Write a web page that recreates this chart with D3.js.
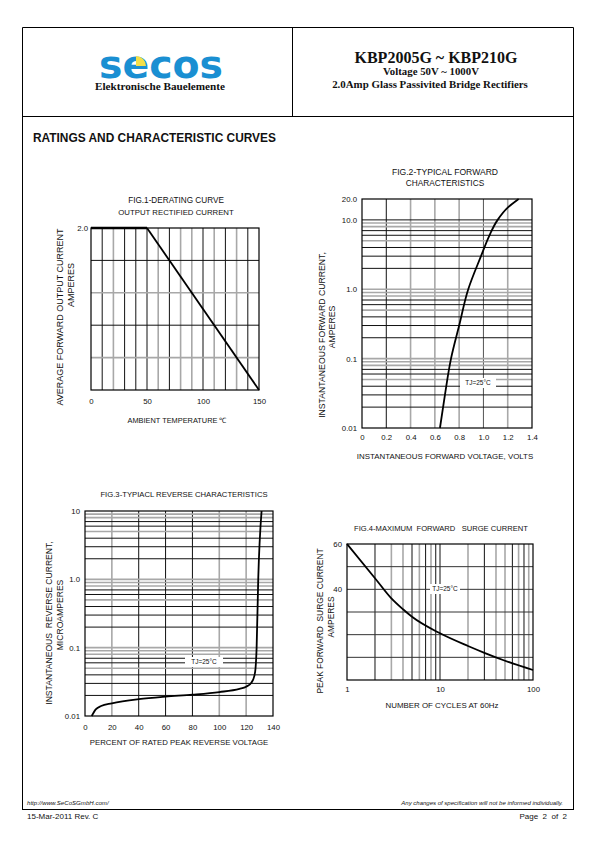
<!DOCTYPE html>
<html><head><meta charset="utf-8">
<script src="https://cdn.jsdelivr.net/npm/d3@7"></script>
<style>
body{margin:0;background:#fff}
svg{display:block}
text{font-family:"Liberation Sans",Arial,sans-serif;fill:#111;white-space:pre}
.serif{font-family:"Liberation Serif","Times New Roman",serif;font-weight:bold}
</style>
</head><body><svg id="c" width="595" height="842"></svg>
<script>
// ---------------- DATA ----------------
// Fig.1 derating curve
const fig1Temp = [0, 50, 150];
const fig1Current = [2.0, 2.0, 0];
const fig1XTicks = [0, 50, 100, 150];
const fig1YTicks = [2.0];
const fig1VGrid = [10,20,30,40,50,60,70,80,90,100,110,120,130,140];
const fig1HGrid = [0.4,0.8,1.2,1.6];

// Fig.2 typical forward characteristics
const fig2Voltage = [0.642, 0.683, 0.733, 0.80, 0.875, 0.98, 1.05, 1.117, 1.2, 1.29];
const fig2Current = [0.01, 0.03, 0.1, 0.3, 1, 3, 6, 10, 15, 20];
const fig2XTicks = [0, 0.2, 0.4, 0.6, 0.8, 1.0, 1.2, 1.4];
const fig2XLabels = ["0","0.2","0.4","0.6","0.8","1.0","1.2","1.4"];
const fig2YTicks = [0.01, 0.1, 1, 10, 20];
const fig2YLabels = ["0.01","0.1","1.0","10.0","20.0"];
const fig2VGrid = [0.2, 0.4, 0.6, 0.8, 1.0, 1.2];

// Fig.3 typical reverse characteristics
const fig3Percent = [5, 8, 12, 20, 40, 60, 80, 100, 115, 120, 124, 126, 127, 127.8, 129, 131.5];
const fig3Current = [0.01, 0.0125, 0.014, 0.0153, 0.0176, 0.0192, 0.0205, 0.0224, 0.025, 0.0268, 0.031, 0.038, 0.05, 0.1, 1, 10];
const fig3XTicks = [0, 20, 40, 60, 80, 100, 120, 140];
const fig3YTicks = [0.01, 0.1, 1, 10];
const fig3YLabels = ["0.01","0.1","1.0","10"];
const fig3VGrid = [20, 40, 60, 80, 100, 120];

// Fig.4 maximum forward surge current
const fig4Cycles = [1, 2, 3, 4, 5, 10, 20, 30, 50, 100];
const fig4Surge = [60, 44.9, 36, 31.2, 27.9, 20.6, 15, 12, 8.5, 4.4];
const fig4XTicks = [1, 10, 100];
const fig4YTicks = [40, 60];
const fig4VGrid = [2,3,4,5,6,7,8,9,10,20,30,40,50,60,70,80,90];
const fig4HGrid = [10,20,30,40,50];

// ---------------- STYLE ----------------
const K = "#111", G = "#a8a8a8";
const fig1VColors = [K,G,K,K,K,G,K,G,G,K,G,K,G,K];
const fig1HColors = [G,K,G,K];
const fig2VColors = [K,G,G,G,"#555",G];
const fig3VColors = [G,K,K,K,G,G];
const fig4VColors = [K,G,G,K,G,K,G,K,K,G,K,G,G,K,G,K,G];
const multColor = {1:G,2:K,3:K,4:K,5:G,6:K,7:K,8:G,9:G};

const svg = d3.select("#c");

// ---------------- PAGE FRAME / HEADER ----------------
const frame = svg.append("g").attr("fill","none").attr("stroke","#000").attr("stroke-width",1);
frame.append("path").attr("d","M22.5,809.5 V27.5 H573.5 V809.5");
frame.append("line").attr("x1",22).attr("x2",574).attr("y1",116.5).attr("y2",116.5);
frame.append("line").attr("x1",292.5).attr("x2",292.5).attr("y1",27).attr("y2",116);
frame.append("line").attr("x1",22).attr("x2",574).attr("y1",809.5).attr("y2",809.5);

// logo
svg.append("text").attr("x",99).attr("y",77.5).attr("textLength",124).attr("lengthAdjust","spacingAndGlyphs")
  .style("font-family","'DejaVu Sans',sans-serif").style("font-weight","bold").style("font-size","39px")
  .style("fill","#1a8fd2").text("secos");
svg.append("path").attr("transform","translate(136,66)")
  .attr("d", d3.arc()({innerRadius:0, outerRadius:10, startAngle:0, endAngle:Math.PI/2}))
  .attr("fill","#f2e04a");
svg.append("text").attr("class","serif").attr("x",160).attr("y",89.5).attr("text-anchor","middle")
  .style("font-size","11.2px").text("Elektronische Bauelemente");

svg.append("text").attr("class","serif").attr("x",436).attr("y",62.5).attr("text-anchor","middle")
  .style("font-size","16px").text("KBP2005G ~ KBP210G");
svg.append("text").attr("class","serif").attr("x",431).attr("y",75).attr("text-anchor","middle")
  .style("font-size","10.8px").text("Voltage 50V ~ 1000V");
svg.append("text").attr("class","serif").attr("x",430).attr("y",87.5).attr("text-anchor","middle")
  .style("font-size","10.9px").text("2.0Amp Glass Passivited Bridge Rectifiers");

svg.append("text").attr("x",33).attr("y",141.5).style("font-size","11.9px").style("font-weight","bold")
  .text("RATINGS AND CHARACTERISTIC CURVES");

// footer
svg.append("text").attr("x",27).attr("y",805).style("font-size","6.1px").style("font-style","italic")
  .text("http://www.SeCoSGmbH.com/");
svg.append("text").attr("x",563).attr("y",805).attr("text-anchor","end").style("font-size","6px").style("font-style","italic")
  .text("Any changes of specification will not be informed individually.");
svg.append("text").attr("x",27).attr("y",819).style("font-size","8px").text("15-Mar-2011 Rev. C");
svg.append("text").attr("x",567).attr("y",819).attr("text-anchor","end").style("font-size","8px").text("Page  2  of  2");

// ---------------- HELPERS ----------------
function vgrid(g, x, y, vals, colors){
  const [y0,y1] = y.range();
  g.append("g").selectAll("line").data(vals).join("line")
    .attr("x1",d=>x(d)).attr("x2",d=>x(d)).attr("y1",y0).attr("y2",y1)
    .attr("stroke",(d,i)=>colors[i]).attr("stroke-width",(d,i)=>colors[i]===G?1.6:1);
}
function hgrid(g, x, y, vals, colors){
  const [x0,x1] = x.range();
  g.append("g").selectAll("line").data(vals).join("line")
    .attr("y1",d=>y(d)).attr("y2",d=>y(d)).attr("x1",x0).attr("x2",x1)
    .attr("stroke",(d,i)=>colors[i]).attr("stroke-width",(d,i)=>colors[i]===G?1.6:1);
}
function logMinor(lo, hi){
  const out=[];
  for(let e=Math.round(Math.log10(lo)); Math.pow(10,e)<hi; e++){
    for(let m=1;m<=9;m++){ const v=m*Math.pow(10,e); if(v>lo*1.0001 && v<hi*0.9999) out.push({v,m}); }
  }
  return out;
}
function border(g,x,y){
  const [x0,x1]=x.range(), [y0,y1]=y.range();
  g.append("rect").attr("x",Math.min(x0,x1)).attr("y",Math.min(y0,y1))
    .attr("width",Math.abs(x1-x0)).attr("height",Math.abs(y1-y0))
    .attr("fill","none").attr("stroke","#000").attr("stroke-width",1.2);
}
function axisText(sel, size){
  sel.select(".domain").remove();
  sel.selectAll("line").remove();
  sel.selectAll("text").style("font-size",size+"px").attr("fill","#111").style("font-family","'Liberation Sans',Arial,sans-serif");
}
function label(x,y,txt,size,anchor,rot){
  const t = svg.append("text").attr("text-anchor",anchor||"middle").style("font-size",size+"px").text(txt);
  if(rot){ t.attr("transform",`translate(${x},${y}) rotate(-90)`).attr("dy","0.35em"); }
  else t.attr("x",x).attr("y",y);
  return t;
}
function tjLabel(cx, cy, w){
  svg.append("rect").attr("x",cx-w/2).attr("y",cy-5).attr("width",w).attr("height",10).attr("fill","#fff");
  label(cx, cy+2.3, "TJ=25°C", 6.5);
}

// ---------------- FIG 1 ----------------
{
  const x = d3.scaleLinear().domain([0,150]).range([91,259]);
  const y = d3.scaleLinear().domain([0,2]).range([390,228]);
  const g = svg.append("g");
  vgrid(g,x,y,fig1VGrid,fig1VColors);
  hgrid(g,x,y,fig1HGrid,fig1HColors);
  border(g,x,y);
  const pts = fig1Temp.map((t,i)=>[t,fig1Current[i]]);
  g.append("path").datum(pts.slice(0,2)).attr("d",d3.line().x(d=>x(d[0])).y(d=>y(d[1])))
    .attr("stroke","#000").attr("stroke-width",2.6).attr("fill","none");
  g.append("path").datum(pts.slice(1)).attr("d",d3.line().x(d=>x(d[0])).y(d=>y(d[1])))
    .attr("stroke","#000").attr("stroke-width",1.8).attr("fill","none");
  svg.append("g").attr("transform","translate(0,390)")
    .call(d3.axisBottom(x).tickValues(fig1XTicks).tickSize(0).tickPadding(8).tickFormat(d3.format("d"))).call(s=>axisText(s,7.8));
  svg.append("g").attr("transform","translate(91,0)")
    .call(d3.axisLeft(y).tickValues(fig1YTicks).tickSize(0).tickPadding(3).tickFormat(d3.format(".1f"))).call(s=>axisText(s,7.8));
  label(176,203,"FIG.1-DERATING CURVE",8.2);
  label(176,215,"OUTPUT RECTIFIED CURRENT",7.8);
  label(177,423,"AMBIENT TEMPERATURE \u2103",7.4);
  label(60,317,"AVERAGE FORWARD OUTPUT CURRENT",9,"middle",true);
  label(71,285,"AMPERES",9,"middle",true);
}

// ---------------- FIG 2 ----------------
{
  const x = d3.scaleLinear().domain([0,1.4]).range([362,532]);
  const y = d3.scaleLog().domain([0.01,20]).range([428,199]);
  const g = svg.append("g");
  vgrid(g,x,y,fig2VGrid,fig2VColors);
  const minors = logMinor(0.01,20);
  hgrid(g,x,y,minors.map(d=>d.v),minors.map(d=>d.v===10?K:multColor[d.m]));
  border(g,x,y);
  const pts = fig2Voltage.map((v,i)=>[v,fig2Current[i]]);
  g.append("path").datum(pts).attr("d",d3.line().curve(d3.curveMonotoneY).x(d=>x(d[0])).y(d=>y(d[1])))
    .attr("stroke","#000").attr("stroke-width",1.8).attr("fill","none");
  tjLabel(478,383,36);
  svg.append("g").attr("transform","translate(0,428)")
    .call(d3.axisBottom(x).tickValues(fig2XTicks).tickSize(0).tickPadding(6).tickFormat((d,i)=>fig2XLabels[i])).call(s=>axisText(s,7.8));
  svg.append("g").attr("transform","translate(362,0)")
    .call(d3.axisLeft(y).tickValues(fig2YTicks).tickSize(0).tickPadding(5).tickFormat((d,i)=>fig2YLabels[i])).call(s=>axisText(s,7.8));
  label(445,174.5,"FIG.2-TYPICAL FORWARD",8.6);
  label(445,185.5,"CHARACTERISTICS",8.3);
  label(445,458.5,"INSTANTANEOUS FORWARD VOLTAGE, VOLTS",7.9);
  label(322,335,"INSTANTANEOUS FORWARD CURRENT,",8.7,"middle",true);
  label(332,327,"AMPERES",8.7,"middle",true);
}

// ---------------- FIG 3 ----------------
{
  const x = d3.scaleLinear().domain([0,140]).range([85,273]);
  const y = d3.scaleLog().domain([0.01,10]).range([716,511]);
  const g = svg.append("g");
  vgrid(g,x,y,fig3VGrid,fig3VColors);
  const minors = logMinor(0.01,10);
  hgrid(g,x,y,minors.map(d=>d.v),minors.map(d=>d.m===1?G:multColor[d.m]));
  border(g,x,y);
  const pts = fig3Percent.map((v,i)=>[v,fig3Current[i]]);
  g.append("path").datum(pts).attr("d",d3.line().curve(d3.curveMonotoneX).x(d=>x(d[0])).y(d=>y(d[1])))
    .attr("stroke","#000").attr("stroke-width",1.8).attr("fill","none");
  tjLabel(204,662,38);
  svg.append("g").attr("transform","translate(0,716)")
    .call(d3.axisBottom(x).tickValues(fig3XTicks).tickSize(0).tickPadding(8).tickFormat(d3.format("d"))).call(s=>axisText(s,7.8));
  svg.append("g").attr("transform","translate(85,0)")
    .call(d3.axisLeft(y).tickValues(fig3YTicks).tickSize(0).tickPadding(5).tickFormat((d,i)=>fig3YLabels[i])).call(s=>axisText(s,7.8));
  label(184,496.5,"FIG.3-TYPIACL REVERSE CHARACTERISTICS",7.7);
  label(179,745,"PERCENT OF RATED PEAK REVERSE VOLTAGE",7.8);
  label(49,623,"INSTANTANEOUS  REVERSE CURRENT,",8.6,"middle",true);
  label(60,615,"MICROAMPERES",8.6,"middle",true);
}

// ---------------- FIG 4 ----------------
{
  const x = d3.scaleLog().domain([1,100]).range([347,533]);
  const y = d3.scaleLinear().domain([0,60]).range([680,544]);
  const g = svg.append("g");
  vgrid(g,x,y,fig4VGrid,fig4VColors);
  hgrid(g,x,y,fig4HGrid,fig4HGrid.map(()=> "#333"));
  border(g,x,y);
  const pts = fig4Cycles.map((v,i)=>[v,fig4Surge[i]]);
  g.append("path").datum(pts).attr("d",d3.line().curve(d3.curveMonotoneX).x(d=>x(d[0])).y(d=>y(d[1])))
    .attr("stroke","#000").attr("stroke-width",1.8).attr("fill","none");
  tjLabel(445,589,30);
  svg.append("g").attr("transform","translate(0,680)")
    .call(d3.axisBottom(x).tickValues(fig4XTicks).tickSize(0).tickPadding(6).tickFormat(d3.format("d"))).call(s=>axisText(s,7.8));
  svg.append("g").attr("transform","translate(347,0)")
    .call(d3.axisLeft(y).tickValues(fig4YTicks).tickSize(0).tickPadding(5).tickFormat(d3.format("d"))).call(s=>axisText(s,7.8));
  label(441,530.5,"FIG.4-MAXIMUM  FORWARD   SURGE CURRENT",7.6);
  label(442,708,"NUMBER OF CYCLES AT 60Hz",7.9);
  label(320,621,"PEAK FORWARD  SURGE CURRENT",8.4,"middle",true);
  label(331,617,"AMPERES",8.4,"middle",true);
}
</script>
</body></html>
